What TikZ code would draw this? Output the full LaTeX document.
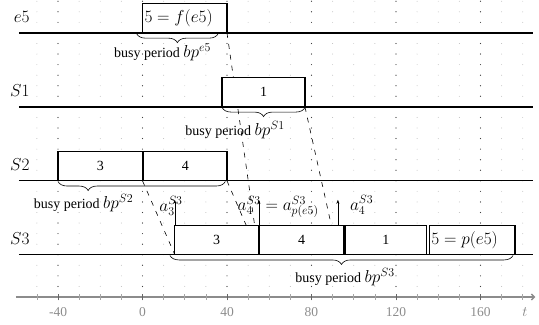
\documentclass[tikz,border=0pt]{standalone}
\usepackage{fontspec}
\setmainfont{Liberation Serif}
\usetikzlibrary{arrows.meta,decorations.pathreplacing}
\DeclareMathSizes{14}{16.3}{11.5}{9}
\newcommand{\tunit}{2.1125pt}
\tikzset{
  jobbox/.style={draw,fill=white,line width=1.3pt,inner sep=0pt,outer sep=0pt,
    anchor=south west,minimum height=14*\tunit},
  rowline/.style={line width=1.3pt},
  busy/.style={decorate,decoration={brace,mirror,amplitude=9pt,raise=0.7pt},line width=0.6pt},
  hop/.style={dash pattern=on 5pt off 6pt,line width=0.6pt},
  arr/.style={-{Stealth[length=4pt,width=3pt]},line width=0.5pt},
  rowlab/.style={anchor=east,font=\fontsize{17}{20}\selectfont},
  ticklab/.style={text=gray!90,font=\fontsize{13.5}{15}\selectfont},
}

\begin{document}
\begin{tikzpicture}[x=\tunit,y=\tunit,font=\fontsize{14}{16}\selectfont]
  \useasboundingbox (-67.46,-13.25) rectangle (187.7,140.6);
  \foreach \x in {-50,-40,...,180}
    \foreach \y in {5,10,...,140}
      \fill[gray!55] (\x,\y) circle (0.45pt);
  \foreach \x in {-40,0,...,160}
    \foreach \y in {5,10,...,140}
      \fill[black!75] (\x,\y) circle (0.6pt);

  \draw[gray!90,line width=1.4pt,-{Straight Barb[length=3pt,width=6pt]}] (-60,0) -- (186,0);
  \foreach \x in {-50,-40,...,180}
    \draw[gray!70,line width=0.6pt] (\x,-1.4) -- (\x,1.4);
  \foreach \x [count=\i] in {-40,0,...,160}{
    \draw[black!60,line width=0.9pt] (\x,-1.6) -- (\x,1.6);
    \node[ticklab] (tl\i) at (\x,-7.2) {\x};
  }
  \node[gray,font=\fontsize{15}{17}\selectfont] (tlab) at (181,-7) {$t$};

  \foreach \y/\name/\lab in {125/e5/$e5$,90/s1/$S1$,55/s2/$S2$,20/s3/$S3$}{
    \draw[rowline] (-58.5,\y) -- (185,\y);
    \node[rowlab] (\name lab) at (-51.8,\y+7.5) {\lab};
  }

  \coordinate (e5out) at (40,125);
  \coordinate (s1out) at (76.9,90);
  \coordinate (s2out3) at (0,55);
  \coordinate (s2out4) at (40,55);
  \coordinate (in3) at (15.3,20);
  \coordinate (in4) at (55.1,20);
  \coordinate (in1) at (92.5,20);
  \draw[hop] (e5out) -- (in4);
  \draw[hop] (s2out4) -- (in4);
  \draw[hop] (s2out3) -- (in3);
  \draw[hop] (s1out) -- (in1);

  \node[jobbox,inner xsep=2pt,text width=80.5pt,align=left] (e5job) at (0,125) {$5=f(e5)$};
  \node[jobbox,minimum width=39.2*\tunit] (s1job) at (37.7,90) {1};
  \node[jobbox,minimum width=40*\tunit] (s2job3) at (-40,55) {3};
  \node[jobbox,minimum width=39.4*\tunit] (s2job4) at (0.6,55) {4};
  \node[jobbox,minimum width=39.5*\tunit] (s3job3) at (15.3,20) {3};
  \node[jobbox,minimum width=39.8*\tunit] (s3job4) at (55.4,20) {4};
  \node[jobbox,minimum width=38.7*\tunit] (s3job1) at (95.8,20) {1};
  \node[jobbox,inner xsep=2pt,text width=81.5pt,align=left] (s3job5) at (135.8,20) {$5=p(e5)$};

  \draw[busy] (-2.8,125) -- (35.8,125);
  \draw[busy] (37.7,90) -- (76.9,90);
  \draw[busy,decoration={aspect=0.18}] (-40,55) -- (39.2,55);
  \draw[busy] (13,20) -- (175.4,20);
  \node (e5busy) at (9.5,116) {busy period $bp^{e5}$};
  \node (s1busy) at (43.8,79) {busy period $bp^{S1}$};
  \node (s2busy) at (-27.9,44.5) {busy period $bp^{S2}$};
  \node (s3busy) at (95.9,9.5) {busy period $bp^{S3}$};

  \coordinate (a3bot) at (15.3,34);
  \coordinate (a3top) at (15.3,46);
  \coordinate (a4bot) at (55.1,34);
  \coordinate (a4top) at (55.1,46);
  \coordinate (a1bot) at (92.5,34);
  \coordinate (a1top) at (92.5,46);
  \draw[arr] (a3bot) -- (a3top);
  \draw[arr] (a4bot) -- (a4top);
  \draw[arr] (a1bot) -- (a1top);
  \node (a3lab) at (13.5,43) {$a_3^{S3}$};
  \node (a4lab) at (64.2,42.6) {$a_4^{S3}=a_{p(e5)}^{S3}$};
  \node[anchor=west] (a1lab) at (96.6,43.5) {$a_4^{S3}$};
\end{tikzpicture}
\end{document}
